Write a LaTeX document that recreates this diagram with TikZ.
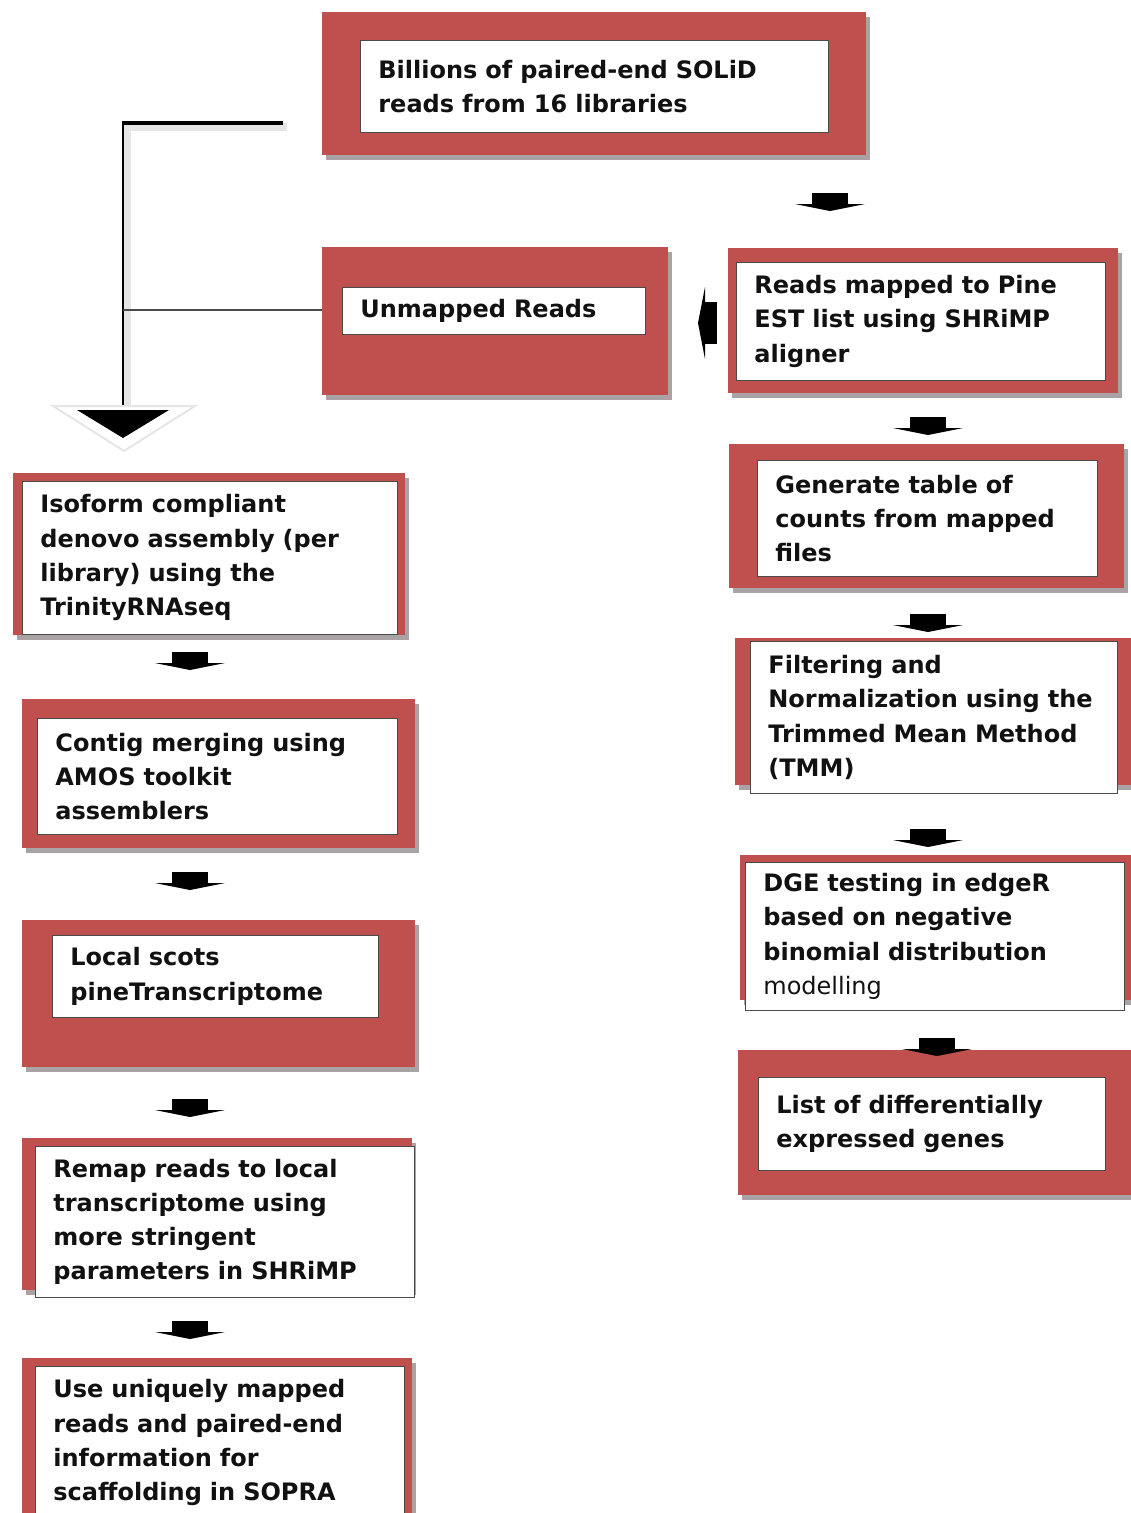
\documentclass[tikz,border=0pt]{standalone}
\usepackage{fontspec}
\setmainfont{DejaVu Sans}
\usepackage{tikz}
\usetikzlibrary{positioning,shadows}
\definecolor{cRed}{HTML}{C0504D}
\definecolor{cInk}{HTML}{111111}
\definecolor{cEdge}{HTML}{4A4A4A}
\definecolor{cShade}{HTML}{A9A3A6}
\definecolor{cHalo}{HTML}{E6E6E6}
\tikzset{
  obox/.style={fill=cRed,draw=none,inner sep=0pt,anchor=north west,
    drop shadow={shadow xshift=4pt,shadow yshift=-5pt,fill=cShade,opacity=1}},
  tbox/.style={fill=white,draw=cEdge,line width=0.8pt,anchor=north west,align=left,
    inner xsep=18pt,inner ysep=0pt,font=\fontsize{24}{34.3}\selectfont\bfseries,text=cInk},
}

\begin{document}
\begin{tikzpicture}[x=1pt,y=-1pt]
  \useasboundingbox (0,0) rectangle (1131,1513);
  \clip (0,0) rectangle (1131,1513);
  % right column
  \node[obox,minimum width=544,minimum height=143] (reads-r) at (322,12) {};
  \node[tbox,text width=432,minimum height=92] (reads) at (360,40) {Billions of paired-end SOLiD\\reads from 16 libraries};
  \node[obox,minimum width=346,minimum height=148] (unmapped-r) at (322,247) {};
  \node[tbox,text width=267,minimum height=47] (unmapped) at (342,287) {Unmapped Reads};
  \node[obox,minimum width=390,minimum height=145] (mapped-r) at (728,248) {};
  \node[tbox,text width=333,minimum height=118] (mapped) at (736,262) {Reads mapped to Pine\\EST list using SHRiMP\\aligner};
  \node[obox,minimum width=395,minimum height=144] (counts-r) at (729,444) {};
  \node[tbox,text width=304,minimum height=116] (counts) at (757,460) {Generate table of\\counts from mapped\\files};
  \node[obox,minimum width=396,minimum height=147] (tmm-r) at (735,638) {};
  \node[tbox,text width=331,minimum height=152] (tmm) at (750,641) {Filtering and\\Normalization using the\\Trimmed Mean Method\\(TMM)};
  \node[obox,minimum width=391,minimum height=145] (dge-r) at (740,855) {};
  \node[tbox,text width=343,minimum height=148] (dge) at (745,862) {DGE testing in edgeR\\based on negative\\binomial distribution\\\mdseries modelling};
  \node[obox,minimum width=393,minimum height=145] (genes-r) at (738,1050) {};
  \node[tbox,text width=311,minimum height=93] (genes) at (758,1077) {List of differentially\\expressed genes};
  % left column
  \node[obox,minimum width=392,minimum height=162] (trinity-r) at (13,473) {};
  \node[tbox,text width=339,minimum height=153] (trinity) at (22,481) {Isoform compliant\\denovo assembly (per\\library) using the\\TrinityRNAseq};
  \node[obox,minimum width=393,minimum height=149] (amos-r) at (22,699) {};
  \node[tbox,text width=324,minimum height=116] (amos) at (37,718) {Contig merging using\\AMOS toolkit\\assemblers};
  \node[obox,minimum width=393,minimum height=147] (local-r) at (22,920) {};
  \node[tbox,text width=290,minimum height=82] (local) at (52,935) {Local scots\\pineTranscriptome};
  \node[obox,minimum width=390,minimum height=152] (remap-r) at (22,1138) {};
  \node[tbox,text width=343,minimum height=151] (remap) at (35,1146) {Remap reads to local\\transcriptome using\\more stringent\\parameters in SHRiMP};
  \node[obox,minimum width=390,minimum height=180] (sopra-r) at (22,1358) {};
  \node[tbox,text width=333,minimum height=153] (sopra) at (35,1366) {Use uniquely mapped\\reads and paired-end\\information for\\scaffolding in SOPRA};
  % small block arrows
  \foreach \x/\y in {830/193,928/417,928/614,928/829,937/1038,190/652,190/872,190/1099,190/1321}{
    \fill[black] (\x-18,\y) rectangle (\x+18,\y+11);
    \fill[black] (\x-35,\y+11) -- (\x+35,\y+11) -- (\x,\y+18) -- cycle;}
  \fill[black] (705,302) rectangle (717,344);
  \fill[black] (705,287) -- (705,359) -- (698,323) -- cycle;
  % unmapped reads feed the assembly
  \coordinate (split) at (283,123);
  \coordinate (bend) at (123,123);
  \coordinate (join) at (123,310);
  \coordinate (drop) at (123,410);
  \draw[cHalo,line width=8pt,transform canvas={xshift=4pt,yshift=-4pt}] (split) -- (bend) -- (drop);
  \draw[black,line width=4.5pt] (split) -- (bend);
  \draw[black,line width=2pt] ([yshift=2pt]bend) -- (drop);
  \draw[cEdge,line width=1.5pt] (join -| unmapped-r.west) -- (join);
  \filldraw[fill=white,draw=cHalo,line width=2pt] (53,406) -- (195,406) -- (124,451) -- cycle;
  \fill[black] (77,410) -- (169,410) -- (123,438) -- cycle;
\end{tikzpicture}
\end{document}
